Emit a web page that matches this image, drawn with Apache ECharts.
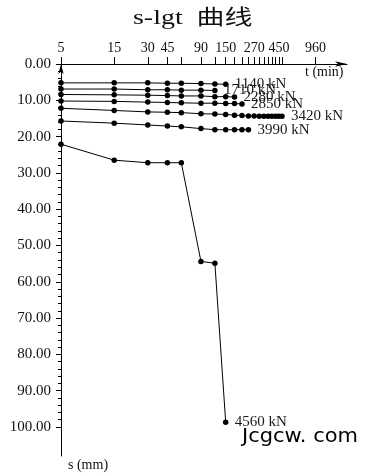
<!DOCTYPE html>
<html>
<head>
<meta charset="utf-8">
<script src="https://cdn.jsdelivr.net/npm/echarts@6/dist/echarts.min.js"></script>
<style>html,body{margin:0;padding:0;background:#fff;}#c{width:368px;height:476px;}</style>
</head>
<body>
<div id="c"></div>
<script>
// time points (min)
const times = [5, 15, 30, 45, 60, 90, 120, 150, 180, 210, 240, 270, 300, 330, 360, 390, 420, 450, 480];
// settlement s (mm) per load stage
const loads = ['1140 kN', '1710 kN', '2280 kN', '2850 kN', '3420 kN', '3990 kN', '4560 kN'];
const s1140 = [5.2, 5.2, 5.2, 5.3, 5.3, 5.4, 5.5, 5.6];
const s1710 = [6.9, 6.9, 7.1, 7.1, 7.2, 7.2, 7.3];
const s2280 = [8.4, 8.5, 8.6, 8.7, 8.8, 8.8, 9.0, 9.0, 9.1];
const s2850 = [10.2, 10.3, 10.5, 10.6, 10.7, 10.8, 10.8, 10.9, 10.9, 11.0];
const s3420 = [12.2, 12.8, 13.2, 13.3, 13.4, 13.7, 13.8, 13.9, 14.1, 14.2, 14.3, 14.3, 14.4, 14.4, 14.4, 14.4, 14.4, 14.4, 14.4];
const s3990 = [15.7, 16.3, 16.8, 17.1, 17.3, 17.8, 18.1, 18.1, 18.1, 18.1, 18.1];
const s4560 = [22.1, 26.5, 27.2, 27.2, 27.2, 54.4, 54.9, 98.7];
const allS = [s1140, s1710, s2280, s2850, s3420, s3990, s4560];
// tick values
const xTickValues = [5, 15, 30, 45, 60, 90, 120, 150, 180, 210, 240, 270, 300, 330, 360, 390, 420, 450, 480, 960];
const xLabelValues = [5, 15, 30, 45, 90, 150, 270, 450, 960];
const yMajor = [0, 10, 20, 30, 40, 50, 60, 70, 80, 90, 100];
const yMinor = [];
for (let v = 0; v <= 100; v += 2) { if (v % 10 !== 0) yMinor.push(v); }

const serif = "'Liberation Serif', 'Times New Roman', serif";
const series = allS.map((arr, i) => ({
  type: 'line',
  data: arr.map((s, j) => [times[j], s]),
  symbol: 'circle',
  symbolSize: 5.5,
  itemStyle: { color: '#000' },
  lineStyle: { color: '#000', width: 1 },
  animation: false,
  endLabel: {
    show: true,
    formatter: loads[i],
    distance: 9,
    fontFamily: serif,
    fontSize: 15,
    color: '#1a1a1a'
  }
}));

const chart = echarts.init(document.getElementById('c'), null, { renderer: 'canvas' });
chart.setOption({
  backgroundColor: '#fff',
  animation: false,
  grid: { left: 61, right: 21, top: 64, bottom: 20 },
  xAxis: {
    type: 'log', logBase: 10, position: 'top',
    min: 5, max: 1837,
    axisLine: { show: true, onZero: false, lineStyle: { color: '#000', width: 1 }, symbol: ['none', 'arrow'], symbolSize: [4, 12] },
    axisTick: { show: true, customValues: xTickValues, length: 7, lineStyle: { color: '#000' } },
    minorTick: { show: false },
    axisLabel: { customValues: xLabelValues, fontFamily: serif, fontSize: 14, color: '#111', margin: 9 },
    splitLine: { show: false }
  },
  yAxis: [{
    type: 'value', inverse: true, min: 0, max: 108, position: 'left',
    axisLine: { show: true, onZero: false, lineStyle: { color: '#000', width: 1 }, symbol: ['none', 'arrow'], symbolSize: [4, 10] },
    axisTick: { show: true, customValues: yMajor, length: 5, lineStyle: { color: '#000' } },
    axisLabel: { customValues: yMajor, formatter: v => Number(v).toFixed(2), fontFamily: serif, fontSize: 15, color: '#111', margin: 10 },
    splitLine: { show: false }
  }, {
    type: 'value', inverse: true, min: 0, max: 108, position: 'left', offset: 0,
    axisLine: { show: false },
    axisTick: { show: true, customValues: yMinor, length: 3, lineStyle: { color: '#000' } },
    axisLabel: { show: false },
    splitLine: { show: false }
  }],
  graphic: [
    { type: 'text', x: 133, y: 8, scaleX: 1.33, style: { text: 's-lgt  曲线', fontFamily: "'Liberation Serif', 'Noto Sans CJK SC', serif", fontSize: 21, fill: '#111' } },
    { type: 'text', left: 305, top: 65, style: { text: 't (min)', fontFamily: serif, fontSize: 14, fill: '#111' } },
    { type: 'text', left: 68, top: 458, style: { text: 's (mm)', fontFamily: serif, fontSize: 14, fill: '#111' } },
    { type: 'text', x: 242, y: 427, scaleX: 1.05, style: { text: 'Jcgcw. com', fontFamily: "'DejaVu Sans', sans-serif", fontSize: 20, fill: '#000' } }
  ],
  series: series
});
</script>
</body>
</html>
